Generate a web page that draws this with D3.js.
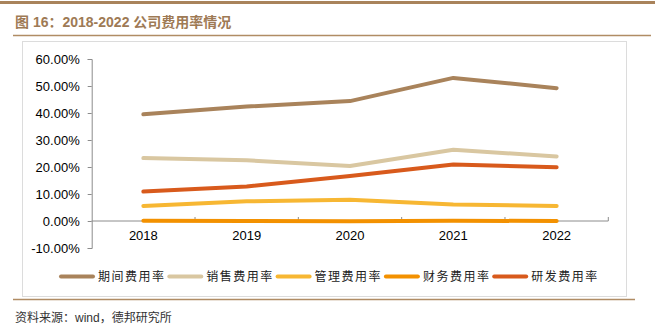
<!DOCTYPE html>
<html>
<head>
<meta charset="utf-8">
<script src="https://cdn.jsdelivr.net/npm/d3@7"></script>
<style>
  body { margin: 0; background: #fff; }
  text { font-family: "Liberation Sans", Arial, "Noto Sans CJK SC", sans-serif; }
</style>
</head>
<body>
<div id="chart"></div>
<script>
// expense ratios by year, in percent
const years = ["2018", "2019", "2020", "2021", "2022"];
const seriesNames = ["期间费用率", "销售费用率", "管理费用率", "财务费用率", "研发费用率"];
const periodRate = [39.5, 42.4, 44.4, 53.0, 49.2];
const salesRate = [23.3, 22.5, 20.4, 26.4, 23.9];
const adminRate = [5.6, 7.3, 7.9, 6.1, 5.6];
const financeRate = [0.1, 0.0, -0.1, 0.1, 0.0];
const rdRate = [10.9, 12.8, 16.7, 20.9, 19.9];
const yTicks = [-10, 0, 10, 20, 30, 40, 50, 60];

const colors = ["#a9835b", "#d9c7a1", "#f7b733", "#f39100", "#d85a1c"];
const seriesValues = [periodRate, salesRate, adminRate, financeRate, rdRate];

const width = 661, height = 330;

let svg = d3.select("#chart")
    .append("svg")
    .attr("width", width)
    .attr("height", height);

// header rules and title
svg.append("line")
    .attr("x1", 0).attr("x2", 655).attr("y1", 2.5).attr("y2", 2.5)
    .attr("stroke", "#a9835b").attr("stroke-width", 3);
svg.append("text")
    .attr("x", 15).attr("y", 27)
    .attr("fill", "#9e7a55")
    .style("font-size", "14px")
    .style("font-weight", "bold")
    .text("图 16：2018-2022 公司费用率情况");
svg.append("line")
    .attr("x1", 13).attr("x2", 651).attr("y1", 35.5).attr("y2", 35.5)
    .attr("stroke", "#b08c64").attr("stroke-width", 1.5);

// chart frame
svg.append("rect")
    .attr("x", 22.5).attr("y", 41.5)
    .attr("width", 604).attr("height", 255)
    .attr("fill", "none")
    .attr("stroke", "#dcdcdc");

// footer
svg.append("line")
    .attr("x1", 13).attr("x2", 635).attr("y1", 299.5).attr("y2", 299.5)
    .attr("stroke", "#b08c64").attr("stroke-width", 1.5);
svg.append("text")
    .attr("x", 15).attr("y", 322)
    .attr("fill", "#333")
    .style("font-size", "12px")
    .text("资料来源：wind，德邦研究所");

// scales
let x = d3.scaleBand()
    .domain(years)
    .range([91.7, 608.3]);
let y = d3.scaleLinear()
    .domain([-10, 60])
    .range([248, 59]);

// y axis
let yAxis = svg.append("g")
    .attr("transform", "translate(91.7,0)")
    .call(d3.axisLeft(y)
        .tickValues(yTicks)
        .tickSize(4)
        .tickPadding(8)
        .tickFormat(d => d.toFixed(2) + "%"));
yAxis.select(".domain").attr("stroke", "#8c8c8c");
yAxis.selectAll(".tick line").attr("stroke", "#8c8c8c");
yAxis.selectAll("text").style("font-size", "13px").attr("fill", "#000")
    .style("font-family", "'Liberation Sans', Arial, sans-serif");

// x axis sits on the zero line, ticks at band edges pointing up
let xAxis = svg.append("g")
    .attr("transform", `translate(0,${y(0)})`);
xAxis.append("line")
    .attr("x1", x.range()[0]).attr("x2", x.range()[1])
    .attr("stroke", "#8c8c8c");
xAxis.selectAll(".edge")
    .data(years.slice(1).concat(["end"]))
    .enter()
    .append("line")
    .attr("x1", (d, i) => x.range()[0] + x.step() * (i + 1))
    .attr("x2", (d, i) => x.range()[0] + x.step() * (i + 1))
    .attr("y1", 0).attr("y2", -4)
    .attr("stroke", "#8c8c8c");
xAxis.selectAll(".label")
    .data(years)
    .enter()
    .append("text")
    .attr("x", d => x(d) + x.bandwidth() / 2)
    .attr("y", 18.5)
    .attr("text-anchor", "middle")
    .style("font-size", "13px")
    .attr("fill", "#000")
    .text(d => d);

// series lines
let line = d3.line()
    .x((d, i) => x(years[i]) + x.bandwidth() / 2)
    .y(d => y(d));

svg.selectAll(".series")
    .data(seriesValues)
    .enter()
    .append("path")
    .attr("d", d => line(d))
    .attr("fill", "none")
    .attr("stroke", (d, i) => colors[i])
    .attr("stroke-width", 4)
    .attr("stroke-linecap", "round")
    .attr("stroke-linejoin", "round");

// legend
let legend = svg.selectAll(".legend")
    .data(seriesNames)
    .enter()
    .append("g")
    .attr("transform", (d, i) => `translate(${61 + i * 108.3},276.5)`);
legend.append("line")
    .attr("x1", 0).attr("x2", 32)
    .attr("stroke", (d, i) => colors[i])
    .attr("stroke-width", 4)
    .attr("stroke-linecap", "round");
legend.append("text")
    .attr("x", 37).attr("y", 4.5)
    .attr("fill", "#222")
    .style("font-size", "12px")
    .style("letter-spacing", "1.5px")
    .style("font-family", "'Noto Sans CJK SC', sans-serif")
    .text(d => d);
</script>
</body>
</html>
